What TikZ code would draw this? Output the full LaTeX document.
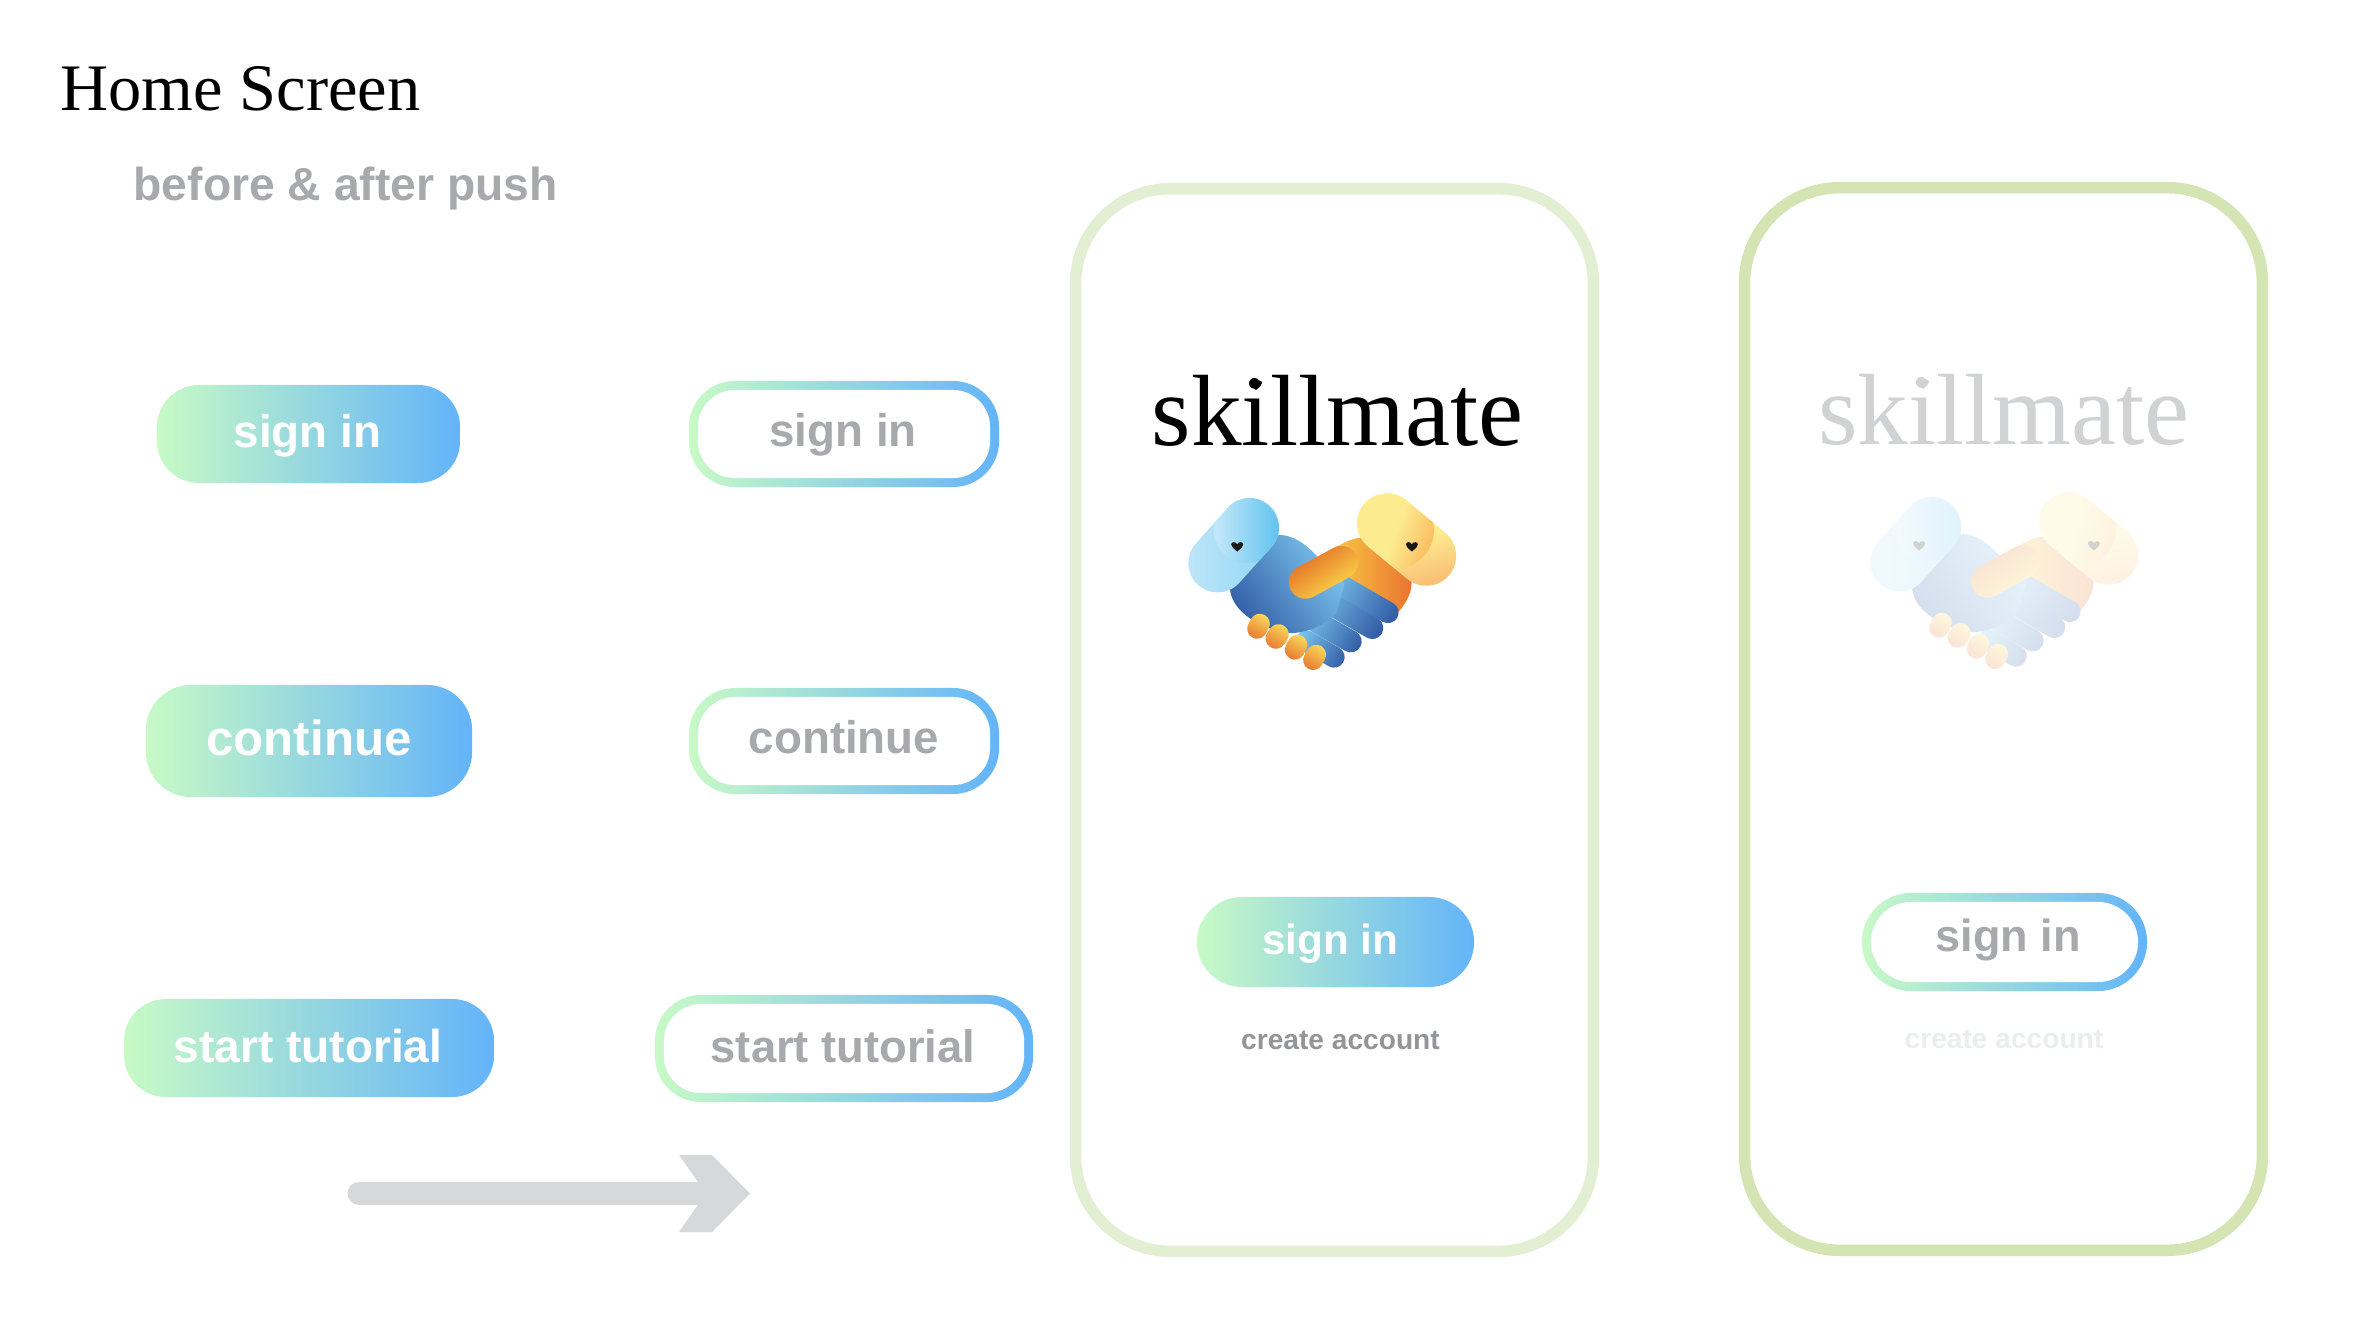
\documentclass[tikz,border=0pt]{standalone}
\usepackage{fontspec}
\setmainfont{Liberation Serif}
\newfontfamily\btnfont{Liberation Sans}[BoldFont={Liberation Sans Bold}]
\definecolor{gradleft}{HTML}{C8FAC6}
\definecolor{gradright}{HTML}{63B4F9}
\definecolor{labelgray}{HTML}{A7A9AC}
\definecolor{accountgray}{HTML}{939598}
\definecolor{accountpale}{HTML}{ECEDEE}
\definecolor{logopale}{HTML}{D1D2D3}
\definecolor{arrowgray}{HTML}{D7D8DA}
\definecolor{phonepale}{HTML}{E3EFD3}
\definecolor{phonegreen}{HTML}{D5E4B3}
\definecolor{skyL}{HTML}{C4E8F9}
\definecolor{skyM}{HTML}{85D2F4}
\definecolor{skyR}{HTML}{62C3F0}
\definecolor{navy}{HTML}{3560A8}
\definecolor{midblue}{HTML}{7CC6EE}
\definecolor{sunY}{HTML}{FAE35C}
\definecolor{sunO}{HTML}{E8702F}
\definecolor{thumbY}{HTML}{FFEC50}
\definecolor{thumbO}{HTML}{E05A20}
\definecolor{wristY}{HTML}{F9C544}
\definecolor{creamY}{HTML}{FDEB90}
\definecolor{creamO}{HTML}{F8B56E}
\definecolor{creamS}{HTML}{F9BE60}
\newcommand{\capsule}[6]{%
  \pgfmathsetmacro\capang{-atan2(#5-#3,#4-#2)}
  \pgfmathsetmacro\caplen{veclen(#4-#2,#5-#3)}
  \pgfmathsetmacro\caprad{#6/300}
  \path[#1,rotate around={\capang:(#2,#3)},rounded corners=\caprad cm]
    (#2-#6,#3-#6) rectangle (#2+\caplen+#6,#3+#6);
}
\tikzset{
  pixels/.style={x=0.01cm,y=-0.01cm},
  thirds/.style={x=0.003333cm,y=-0.003333cm},
  filledbtn/.style={left color=gradleft,right color=gradright,inner sep=0pt,outer sep=0pt},
  ringbtn/.style={left color=gradleft,right color=gradright,inner sep=0pt,outer sep=0pt},
  ringhole/.style={fill=white,inner sep=0pt,outer sep=0pt},
  btntext/.style={anchor=base,inner sep=0pt,font=\btnfont\bfseries\fontsize{#1}{#1}\selectfont},
  phone/.style={draw=#1,line width=0.115cm,rounded corners=0.95cm,minimum width=5.175cm,minimum height=10.62cm,inner sep=0pt},
  logotext/.style={anchor=base,inner sep=0pt,font=\fontsize{28.8}{30}\selectfont},
  grad/.style n args={3}{top color=#1,bottom color=#2,shading angle=#3},
  heartmark/.pic={
    \begin{scope}[thirds]
    \fill[pic actions] (0,15) .. controls (-10,6) and (-18,2) .. (-18,-6) .. controls (-18,-14) and (-6,-17) .. (0,-7)
      .. controls (6,-17) and (18,-14) .. (18,-6) .. controls (18,2) and (10,6) .. (0,15) -- cycle;
    \end{scope}
  },
  handshake/.pic={
    \begin{scope}[thirds]
    \path[grad={sunO}{wristY}{-90}] (560,232) .. controls (600,205) and (640,198) .. (665,205) -- (780,310)
      .. controls (797,350) and (775,395) .. (745,428) -- (590,320) -- cycle;
    \capsule{grad={midblue}{navy}{60}}{542}{328}{715}{428}{32}
    \capsule{grad={midblue}{navy}{60}}{495}{375}{668}{475}{33}
    \capsule{grad={midblue}{navy}{60}}{490}{450}{603}{515}{33}
    \capsule{grad={midblue}{navy}{60}}{470}{514}{553}{562}{32}
    \path[grad={midblue}{navy}{-55}] (385,195) .. controls (440,195) and (480,235) .. (510,268) -- (585,340) -- (560,430)
      .. controls (520,470) and (470,490) .. (420,490) .. controls (340,480) and (245,430) .. (240,355) -- cycle;
    \capsule{grad={skyM}{skyL}{-90}}{203}{280}{300}{172}{88}
    \begin{scope}
    \capsule{clip}{203}{280}{300}{172}{88}
    \path[grad={skyR}{skyL}{-90}] (290,181) circle[radius=98];
    \end{scope}
    \capsule{grad={creamY}{creamO}{15},middle color=creamY}{712}{160}{830}{258}{90}
    \begin{scope}
    \capsule{clip}{712}{160}{830}{258}{90}
    \path[grad={creamY}{creamS}{70},middle color=creamY] (738,181) circle[radius=115];
    \end{scope}
    \capsule{grad={thumbO}{thumbY}{35}}{467}{337}{575}{278}{50}
    \capsule{grad={sunY}{sunO}{-30}}{330}{462}{322}{477}{30}
    \capsule{grad={sunY}{sunO}{-30}}{386}{494}{378}{506}{31}
    \capsule{grad={sunY}{sunO}{-30}}{443}{525}{435}{540}{30}
    \capsule{grad={sunY}{sunO}{-30}}{499}{555}{490}{571}{30}
    \pic[fill=black!90] at (262,230) {heartmark};
    \pic[fill=black!90] at (787,230) {heartmark};
    \end{scope}
  }
}
\begin{document}
\begin{tikzpicture}[pixels]
\path[fill=white,use as bounding box] (0,0) rectangle (2370,1334);

\node[anchor=base west,inner sep=0pt,font=\fontsize{18.9}{20}\selectfont] (title) at (60,111) {Home Screen};
\node[btntext=13.15,text=labelgray,anchor=base west] (subtitle) at (133,201) {before \& after push};

\node[filledbtn,minimum width=3.03cm,minimum height=0.98cm,rounded corners=0.42cm] (signin) at (308.5,434) {};
\node[filledbtn,minimum width=3.26cm,minimum height=1.12cm,rounded corners=0.45cm] (continue) at (309,741) {};
\node[filledbtn,minimum width=3.70cm,minimum height=0.98cm,rounded corners=0.42cm] (tutorial) at (309,1048) {};
\node[btntext=13,text=white] (signintxt) at (307.5,448) {sign in};
\node[btntext=14,text=white] (continuetxt) at (309,755) {continue};
\node[btntext=13.1,text=white] (tutorialtxt) at (308,1062) {start tutorial};

\node[ringbtn,minimum width=3.10cm,minimum height=1.06cm,rounded corners=0.46cm] (signinring) at (844,434) {};
\node[ringhole,minimum width=2.92cm,minimum height=0.88cm,rounded corners=0.37cm] (signinhole) at (844,434) {};
\node[ringbtn,minimum width=3.10cm,minimum height=1.06cm,rounded corners=0.46cm] (continuering) at (844,741) {};
\node[ringhole,minimum width=2.92cm,minimum height=0.88cm,rounded corners=0.37cm] (continuehole) at (844,741) {};
\node[ringbtn,minimum width=3.78cm,minimum height=1.07cm,rounded corners=0.46cm] (tutorialring) at (844,1048.5) {};
\node[ringhole,minimum width=3.60cm,minimum height=0.89cm,rounded corners=0.37cm] (tutorialhole) at (844,1048.5) {};
\node[btntext=13,text=labelgray] (signinringtxt) at (843,447) {sign in};
\node[btntext=13,text=labelgray] (continueringtxt) at (844,753) {continue};
\node[btntext=12.9,text=labelgray] (tutorialringtxt) at (843,1062) {start tutorial};

\coordinate (arrowtail) at (359,1193.5);
\coordinate (arrowneck) at (712,1193.5);
\path[draw=arrowgray,line width=0.23cm,line cap=round] (arrowtail) -- (arrowneck);
\fill[arrowgray] (679,1155) -- (712,1155) -- (750,1193.5) -- (712,1232) -- (679,1232) -- (706,1193.5) -- cycle;

\node[phone=phonepale] (before) at (1334.5,720) {};
\node[phone=phonegreen] (after) at (2003.5,719) {};

\node[logotext] (logo) at (1337.5,446) {skillmate};
\pic[fill=black] at (1256,385) {heartmark};
\pic at (1150,470) {handshake};
\node[filledbtn,minimum width=2.77cm,minimum height=0.90cm,rounded corners=0.45cm] (homebtn) at (1335.5,942) {};
\node[btntext=12,text=white] (homebtntxt) at (1330,954) {sign in};
\node[btntext=8,text=accountgray] (account) at (1340.5,1049) {create account};

\node[logotext,text=logopale] (logopale) at (2004,445) {skillmate};
\pic[fill=logopale] at (1923,384) {heartmark};
\begin{scope}[transparency group,opacity=0.2]
\pic at (1832,469) {handshake};
\end{scope}
\node[ringbtn,minimum width=2.85cm,minimum height=0.98cm,rounded corners=0.49cm] (pushring) at (2004.5,942) {};
\node[ringhole,minimum width=2.67cm,minimum height=0.80cm,rounded corners=0.40cm] (pushhole) at (2004.5,942) {};
\node[btntext=12.8,text=labelgray] (pushtxt) at (2008,951) {sign in};
\node[btntext=8,text=accountpale] (accountpale) at (2004,1048) {create account};
\end{tikzpicture}
\end{document}
